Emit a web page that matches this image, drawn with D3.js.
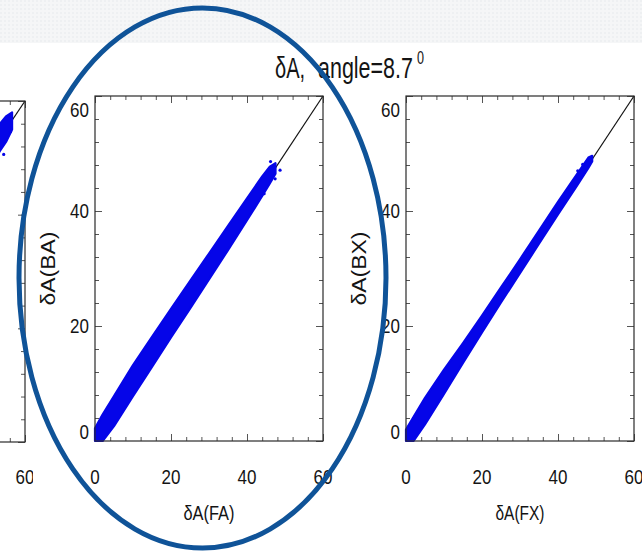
<!DOCTYPE html>
<html>
<head>
<meta charset="utf-8">
<script src="https://cdn.jsdelivr.net/npm/d3@7"></script>
<style>
  html, body { margin: 0; padding: 0; background: #fff; overflow: hidden; }
  svg { display: block; }
  text { font-family: "Liberation Sans", Arial, Helvetica, sans-serif; fill: #141414; }
</style>
</head>
<body>
<svg id="chart" width="642" height="555"></svg>
<script>
// ---- axis ticks ----
const majorTicks = [0, 20, 40, 60];
const minorTicks = [0, 4, 8, 12, 16, 20, 24, 28, 32, 36, 40, 44, 48, 52, 56, 60];
const axisDomain = [0, 60];

// ---- titles ----
const titleMain = "δA,";
const titleRest = "angle=8.7";
const titleSup = "0";

// ---- δA(BA) vs δA(FA): envelope of the point cloud ----
const faGrid = [0, 2, 5, 10, 15, 20, 25, 30, 35, 40, 44, 46, 47.5];
const baLow  = [0, 0, 2.6, 7.8, 12.9, 18.0, 23.0, 28.1, 33.2, 38.4, 42.6, 44.8, 46.5];
const baHigh = [2.2, 4.6, 7.8, 13.2, 18.1, 23.0, 27.8, 32.6, 37.4, 42.2, 46.0, 47.7, 48.3];
const baStrayX = [48.7, 47.4, 44.5, 46.2];
const baStrayY = [47.1, 45.6, 43.0, 48.6];

// ---- δA(BX) vs δA(FX) ----
const fxGrid = [0, 2, 5, 10, 15, 20, 25, 30, 35, 40, 45, 48, 49];
const bxLow  = [0, 0, 2.9, 8.2, 13.6, 18.9, 24.1, 29.2, 34.3, 39.4, 44.4, 47.5, 48.6];
const bxHigh = [2.0, 4.2, 7.5, 12.4, 17.0, 21.8, 26.7, 31.6, 36.6, 41.6, 46.4, 49.3, 49.6];
const bxStrayX = [46.5, 45.2];
const bxStrayY = [48.1, 47.0];

// ---- neighbouring panel (only its right edge is in view) ----
const lfGrid = [46, 50, 53.4, 55, 56.6];
const lbLow  = [43.5, 47.5, 51.2, 52.8, 55.0];
const lbHigh = [48.5, 52.5, 56.0, 57.3, 58.0];
const lStrayX = [53.0, 54.4, 56.2];
const lStrayY = [56.6, 50.6, 54.6];

const svg = d3.select("#chart");
const BLUE = "#0505e8";
const VIEW_W = 642;

// header strip of the slide
const defs = svg.append("defs");
const pat = defs.append("pattern").attr("id", "grain").attr("width", 4).attr("height", 4)
  .attr("patternUnits", "userSpaceOnUse");
pat.append("rect").attr("width", 4).attr("height", 4).attr("fill", "#f5f6f7");
pat.append("rect").attr("width", 2).attr("height", 2).attr("fill", "#eef0f2");
svg.append("rect").attr("x", 0).attr("y", 0).attr("width", 642).attr("height", 43)
  .attr("fill", "url(#grain)");

defs.append("clipPath").attr("id", "leftClip")
  .append("rect").attr("x", -300).attr("y", 0).attr("width", 333).attr("height", 555);

function zipXY(xs, lo, hi) { return xs.map((v, i) => ({ v, lo: lo[i], hi: hi[i] })); }
const inView = px => px > -10 && px < VIEW_W + 10;

function drawPanel(g, cfg) {
  const x = d3.scaleLinear().domain(axisDomain).range([cfg.left, cfg.right]);
  const y = d3.scaleLinear().domain(axisDomain).range([cfg.bottom, cfg.top]);

  // tick marks pointing inward on all four sides
  const tickSets = [[minorTicks, 4], [majorTicks, 7]];
  tickSets.forEach(([vals, len]) => {
    const axes = [
      [d3.axisBottom(x), `translate(0,${cfg.bottom})`],
      [d3.axisTop(x), `translate(0,${cfg.top})`],
      [d3.axisLeft(y), `translate(${cfg.left},0)`],
      [d3.axisRight(y), `translate(${cfg.right},0)`]
    ];
    axes.forEach(([ax, tr]) => {
      const a = g.append("g").attr("transform", tr)
        .call(ax.tickValues(vals).tickSize(-len).tickFormat(""));
      a.select(".domain").remove();
      a.selectAll("line").attr("stroke", "#555").attr("stroke-width", 1);
    });
  });

  // 1:1 reference line
  g.append("line")
    .attr("x1", x(0)).attr("y1", y(0)).attr("x2", x(60)).attr("y2", y(60))
    .attr("stroke", "#111").attr("stroke-width", 1.2);

  // point cloud
  const area = d3.area().x(d => x(d.v)).y0(d => y(d.lo)).y1(d => y(d.hi));
  g.append("path").datum(zipXY(cfg.grid, cfg.low, cfg.high))
    .attr("d", area).attr("fill", BLUE).attr("stroke", BLUE)
    .attr("stroke-width", 2.2).attr("stroke-linejoin", "round");
  g.selectAll(null).data(cfg.strayX.map((v, i) => [v, cfg.strayY[i]])).join("circle")
    .attr("cx", d => x(d[0])).attr("cy", d => y(d[1])).attr("r", 1.6).attr("fill", BLUE);

  // frame
  g.append("rect").attr("x", cfg.left).attr("y", cfg.top)
    .attr("width", cfg.right - cfg.left).attr("height", cfg.bottom - cfg.top)
    .attr("fill", "none").attr("stroke", "#2a2a2a").attr("stroke-width", 1.2);

  // tick labels (only those that land on the page)
  majorTicks.forEach(v => {
    const cy = Math.min(Math.max(y(v), cfg.top + 14), cfg.bottom - 9);
    if (inView(cfg.left - 6)) {
      g.append("text").attr("text-anchor", "end").attr("font-size", 20)
        .attr("transform", `translate(${cfg.left - 6},${cy + 7}) scale(0.85,1)`)
        .text(v);
    }
    if (inView(x(v))) {
      g.append("text").attr("text-anchor", "middle").attr("font-size", 20)
        .attr("transform", `translate(${x(v)},${484}) scale(0.85,1)`)
        .text(v);
    }
  });

  // axis titles
  const cx = (cfg.left + cfg.right) / 2;
  const cyMid = (cfg.top + cfg.bottom) / 2;
  if (inView(cx)) {
    g.append("text").attr("x", cx - cfg.xTitleLen / 2).attr("y", 520)
      .attr("font-size", 21).attr("textLength", cfg.xTitleLen)
      .attr("lengthAdjust", "spacingAndGlyphs").text(cfg.xTitle);
  }
  if (inView(cfg.left + cfg.yTitleGap)) {
    g.append("text").attr("transform", `translate(${cfg.left + cfg.yTitleGap},${cyMid + 37}) rotate(-90)`)
      .attr("font-size", 21).attr("textLength", 74)
      .attr("lengthAdjust", "spacingAndGlyphs").text(cfg.yTitle);
  }
}

// neighbouring panel on the left, cut by the page edge
drawPanel(svg.append("g").attr("clip-path", "url(#leftClip)"), {
  left: -203, right: 25, top: 101, bottom: 442,
  grid: lfGrid, low: lbLow, high: lbHigh, strayX: lStrayX, strayY: lStrayY,
  xTitle: "δA(FA)", xTitleLen: 50, yTitle: "δA(BA)", yTitleGap: -40
});

drawPanel(svg.append("g"), {
  left: 95, right: 323, top: 96, bottom: 441,
  grid: faGrid, low: baLow, high: baHigh, strayX: baStrayX, strayY: baStrayY,
  xTitle: "δA(FA)", xTitleLen: 51, yTitle: "δA(BA)", yTitleGap: -40
});

drawPanel(svg.append("g"), {
  left: 406, right: 634, top: 96, bottom: 441,
  grid: fxGrid, low: bxLow, high: bxHigh, strayX: bxStrayX, strayY: bxStrayY,
  xTitle: "δA(FX)", xTitleLen: 49, yTitle: "δA(BX)", yTitleGap: -40
});

// shared title, set in a narrow, tall face
svg.append("text").attr("font-size", 30)
  .attr("transform", "translate(275,78) scale(0.67,1)").text(titleMain);
svg.append("text").attr("font-size", 30)
  .attr("transform", "translate(318,78) scale(0.716,1)").text(titleRest);
svg.append("text").attr("font-size", 18)
  .attr("transform", "translate(417,64) scale(0.7,1)").text(titleSup);

// highlight ring around the middle panel
svg.append("ellipse").attr("cx", 202.5).attr("cy", 278).attr("rx", 183.5).attr("ry", 270)
  .attr("fill", "none").attr("stroke", "#0f5398").attr("stroke-width", 5);
</script>
</body>
</html>
